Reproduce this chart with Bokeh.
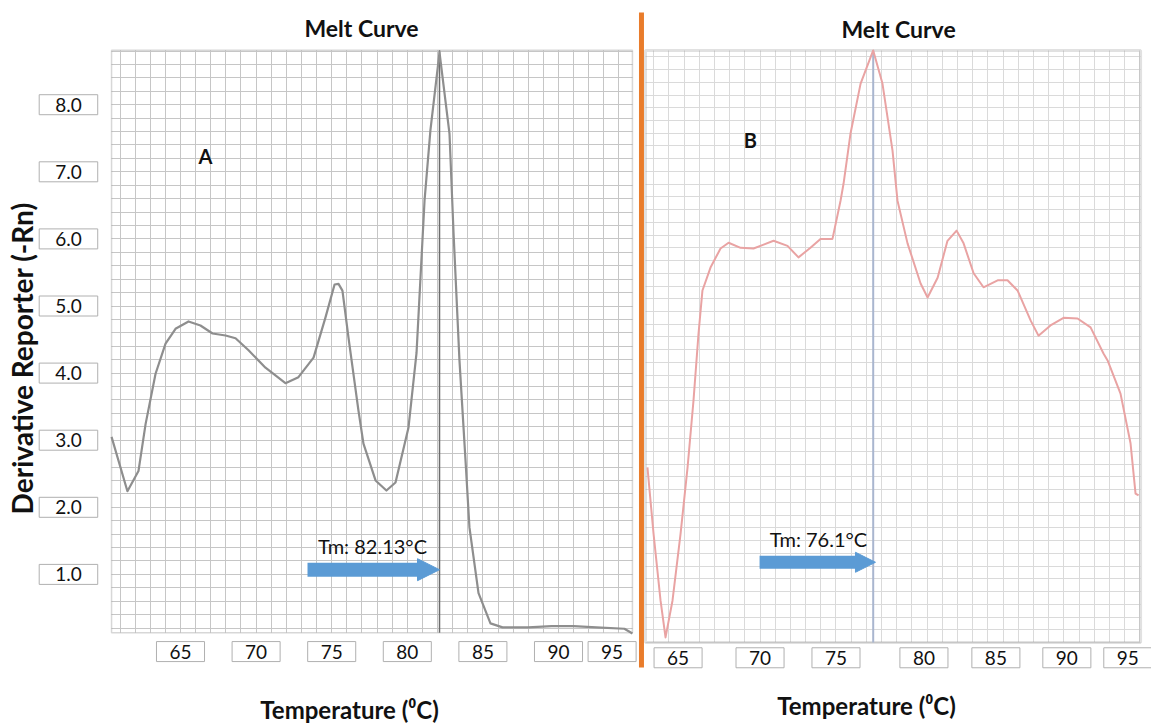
import numpy as np
from bokeh.plotting import figure
from bokeh.models import Range1d, Label, Arrow, NormalHead, SingleIntervalTicker, BoxAnnotation
from bokeh.layouts import row
from bokeh.embed import file_html
from bokeh.resources import INLINE

# ---------------- data ----------------
# Panel A (grey curve)
temp_a = [60.44, 61.49, 62.22, 62.69, 63.35, 64.01, 64.67, 65.53, 66.32, 67.12,
          67.98, 68.64, 69.50, 70.62, 71.94, 72.80, 73.80, 74.59, 75.19, 75.45,
          75.71, 76.11, 76.77, 77.10, 77.90, 78.62, 79.22, 80.08, 80.61, 81.14,
          81.53, 82.13, 82.79, 83.06, 83.45, 83.85, 84.11, 84.71, 85.50, 86.30,
          88.00, 89.54, 91.00, 92.50, 94.36, 94.89]
deriv_a = [3.05, 2.24, 2.54, 3.24, 3.99, 4.44, 4.66, 4.77, 4.71, 4.59,
           4.56, 4.52, 4.34, 4.08, 3.85, 3.94, 4.23, 4.83, 5.32, 5.33,
           5.23, 4.53, 3.44, 2.95, 2.40, 2.25, 2.37, 3.19, 4.30, 6.57,
           7.62, 8.78, 7.57, 6.08, 4.19, 2.70, 1.70, 0.72, 0.27, 0.21,
           0.21, 0.23, 0.23, 0.21, 0.19, 0.12]

# Panel B (red curve)
temp_b = [62.59, 62.99, 63.45, 63.78, 64.24, 64.77, 65.23, 65.62, 65.95, 66.21,
          66.74, 67.40, 67.93, 68.72, 69.57, 70.89, 71.81, 72.53, 73.32, 73.98,
          74.77, 75.30, 75.50, 75.96, 76.62, 77.45, 78.06, 78.72, 79.05, 79.71,
          80.57, 81.03, 81.69, 82.34, 82.94, 83.40, 84.06, 84.71, 85.64, 86.29,
          86.95, 87.81, 88.33, 89.12, 89.98, 90.90, 91.76, 92.61, 92.88, 93.73,
          94.39, 94.72, 94.92]
deriv_b = [2.75, 1.71, 0.66, 0.08, 0.66, 1.71, 2.75, 3.80, 4.85, 5.53,
           5.89, 6.19, 6.28, 6.20, 6.19, 6.31, 6.23, 6.05, 6.20, 6.34,
           6.34, 6.94, 7.21, 8.00, 8.78, 9.30, 8.78, 7.73, 6.94, 6.27,
           5.64, 5.42, 5.73, 6.31, 6.47, 6.27, 5.80, 5.58, 5.69, 5.69,
           5.53, 5.06, 4.82, 4.98, 5.10, 5.09, 4.95, 4.54, 4.43, 3.91,
           3.13, 2.34, 2.31]

x_ticks = [65, 70, 75, 80, 85, 90, 95]
y_ticks_a = [1.0, 2.0, 3.0, 4.0, 5.0, 6.0, 7.0, 8.0]

tm_a = 82.13
tm_b_text = "76.1"
tm_b_line = 77.45

title_text = "Melt Curve"
xlabel_text = "Temperature (\u2070C)"
ylabel_text = "Derivative Reporter (-Rn)"

# panel extents (data units)
panel_a_x = (60.44, 94.89)
panel_a_y = (0.13, 8.81)
panel_b_x = (62.46, 95.05)
panel_b_y = (0.0, 9.30)

# ---------------- styles ----------------
FONT = "Lato"
TXT = "#111111"
BOX = "#b0b0b0"
ARROW = "#5b9bd5"
xoff_a = [0, 0, 0, 0, 0, 0, -22]
xoff_b = [-6, 0, 0, 12, 8, 3, -12]
pad = dict(left=13, right=13, top=3, bottom=3)
pad_y = dict(left=16, right=16, top=3, bottom=3)


def base(width, xr, yr, px, py, grid_color, border_color, border_width):
    p = figure(width=width, height=725, x_range=Range1d(*xr), y_range=Range1d(*yr),
               output_backend="svg", toolbar_location=None,
               min_border=0, background_fill_color="white",
               border_fill_color="white", outline_line_color=None)
    p.xaxis.visible = False
    p.yaxis.visible = False
    p.xgrid.ticker = SingleIntervalTicker(interval=1)
    p.ygrid.ticker = SingleIntervalTicker(interval=0.2)
    p.xgrid.bounds = px
    p.xgrid.cross_bounds = py
    p.ygrid.bounds = py
    p.ygrid.cross_bounds = px
    p.grid.grid_line_color = grid_color
    p.grid.grid_line_width = 1
    p.add_layout(BoxAnnotation(left=px[0], right=px[1], bottom=py[0], top=py[1],
                               fill_alpha=0, line_color=border_color,
                               line_width=border_width, level="underlay"))
    return p


def txt(p, x, y, text, size, bold=True, angle=0.0, **kw):
    p.add_layout(Label(x=x, y=y, text=text, text_align="center", text_baseline="middle",
                       text_font=FONT, text_font_size=size,
                       text_font_style="bold" if bold else "normal",
                       text_color=TXT, angle=angle, **kw))


def box_label(p, x, y, text, padding, x_offset=0):
    p.add_layout(Label(x=x, y=y, x_offset=x_offset, text=text, text_align="center",
                       text_baseline="middle", text_font=FONT, text_font_size="19px",
                       text_color=TXT, border_line_color=BOX, border_line_width=1,
                       background_fill_color="white", padding=padding))


# ---------------- Panel A ----------------
pa = base(638, (53.095, 95.291), (-1.2519, 9.553), panel_a_x, panel_a_y,
          "#c6c6c6", "#7a7a7a", 1.5)
pa.segment(x0=[tm_a], y0=[panel_a_y[0]], x1=[tm_a], y1=[panel_a_y[1]],
           line_color="#6c6c6c", line_width=1.5)
pa.line(temp_a, deriv_a, line_color="#8e8e8e", line_width=2.2, line_join="round")
pa.add_layout(Arrow(end=NormalHead(size=22, fill_color=ARROW, line_color=ARROW),
                    x_start=73.40, y_start=1.07, x_end=tm_a, y_end=1.07,
                    line_color=ARROW, line_width=14))
for t, o in zip(x_ticks, xoff_a):
    box_label(pa, t, -0.15, str(t), pad, o)
for v in y_ticks_a:
    box_label(pa, 57.59, v, f"{v:.1f}", pad_y)
txt(pa, 76.97, 9.14, title_text, "23px")
txt(pa, 66.65, 7.24, "A", "20px")
txt(pa, 77.70, 1.43, f"Tm: {tm_a}\u00b0C", "20px", bold=False)
txt(pa, 76.18, -1.01, xlabel_text, "24px")
txt(pa, 54.55, 4.22, ylabel_text, "28px", angle=np.pi / 2)

# ---------------- Panel B ----------------
pb = base(513, (62.0, 95.77), (-1.304, 10.085), panel_b_x, panel_b_y,
          "#dadada", "#9c9c9c", 3)
# orange separator bar between the two panels
pb.add_layout(BoxAnnotation(left=62.03, right=62.36, bottom=-0.393, top=9.896,
                            fill_color="#e97c2b", fill_alpha=1, line_color=None))
pb.segment(x0=[tm_b_line], y0=[panel_b_y[0]], x1=[tm_b_line], y1=[panel_b_y[1]],
           line_color="#a9b6cf", line_width=2)
pb.line(temp_b, deriv_b, line_color="#e9a3a3", line_width=2, line_join="round")
pb.add_layout(Arrow(end=NormalHead(size=20, fill_color=ARROW, line_color=ARROW),
                    x_start=69.97, y_start=1.26, x_end=77.6, y_end=1.26,
                    line_color=ARROW, line_width=13))
for t, o in zip(x_ticks, xoff_b):
    box_label(pb, t, -0.24, str(t), pad, o)
txt(pb, 79.12, 9.63, title_text, "23px")
txt(pb, 69.37, 7.89, "B", "20px")
txt(pb, 73.85, 1.62, f"Tm: {tm_b_text}\u00b0C", "20px", bold=False)
txt(pb, 77.01, -0.99, xlabel_text, "24px")

layout = row(pa, pb)
open("out.html", "w").write(file_html(layout, INLINE, title="Melt Curve"))
